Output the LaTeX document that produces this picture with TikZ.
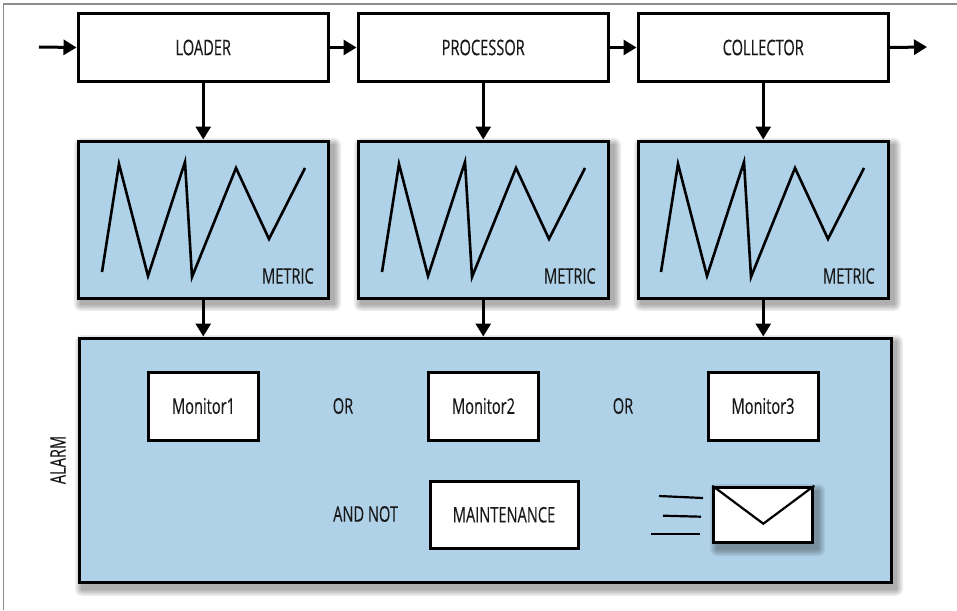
\documentclass[tikz,border=0pt]{standalone}
\usepackage{fontspec}
\setmainfont[FakeStretch=0.68,FakeBold=0.25]{Open Sans}
\usetikzlibrary{arrows.meta,calc}
\definecolor{panel}{HTML}{B0D2E9}
\tikzset{
  x=1pt,y=-1pt,
  boxbase/.style={draw=black,line width=3pt,anchor=north west,inner sep=0pt,font=\fontsize{21.5}{24}\selectfont,text=black!90},
  stagebox/.style={boxbase,fill=white,minimum width=250.5pt,minimum height=67pt},
  metricbox/.style={boxbase,fill=panel,minimum width=250.5pt,minimum height=157pt},
  alarmbox/.style={boxbase,fill=panel,minimum width=812pt,minimum height=244.5pt},
  monitorbox/.style={boxbase,fill=white,minimum width=110pt,minimum height=68pt},
  maintbox/.style={boxbase,fill=white,minimum width=148pt,minimum height=67.5pt},
  mailbox/.style={boxbase,fill=white,minimum width=99pt,minimum height=55pt},
  flow/.style={draw=black,line width=3pt,-{Triangle[length=13pt,width=15pt]}},
  trace/.style={draw=black,line width=2.6pt,line join=miter},
  speed/.style={draw=black,line width=2.2pt},
  caption/.style={font=\fontsize{21.5}{24}\selectfont,text=black!90,inner sep=0pt},
  shadowlayer/.style={fill=black,fill opacity=0.07,draw=none}
}
\newcommand{\softshadow}[4]{% x y w h
  \foreach \s in {7,5.5,4,2.5,1}{
    \fill[shadowlayer,rounded corners=\s pt] (#1+4-\s,#2+5-\s) rectangle (#1+#3+4+\s,#2+#4+5+\s);
  }
}
\newcommand{\zigzag}[1]{%
  \draw[trace] (#1+25,272) -- (#1+42,164) -- (#1+71,276) -- (#1+108,162) -- (#1+115,277) -- (#1+159,168) -- (#1+192,239) -- (#1+228,168);
}
\begin{document}
\begin{tikzpicture}
\useasboundingbox (0,0) rectangle (957,610);
\fill[white] (0,0) rectangle (957,610);
\draw[draw=black!45,line width=1.1pt] (3.3,610) -- (3.3,4);
\draw[draw=black!45,line width=1.7pt] (2.7,4) -- (957,4);

\softshadow{77}{140}{253}{159}
\softshadow{357}{140}{253}{159}
\softshadow{637}{140}{253}{159}
\softshadow{78}{337}{814}{247}

\node[alarmbox] (alarm) at (77.5,336.5) {};
\node[stagebox] (loader) at (76.5,12.5) {LOADER};
\node[stagebox] (processor) at (356.5,12.5) {PROCESSOR};
\node[stagebox] (collector) at (636.5,12.5) {COLLECTOR};
\node[metricbox] (metric1) at (76.5,139.5) {};
\node[metricbox] (metric2) at (356.5,139.5) {};
\node[metricbox] (metric3) at (636.5,139.5) {};

\zigzag{77}\zigzag{357}\zigzag{636}

\node[caption,anchor=east] (m1label) at (314,276) {METRIC};
\node[caption,anchor=east] (m2label) at (596,276) {METRIC};
\node[caption,anchor=east] (m3label) at (875,276) {METRIC};

\node[monitorbox] (mon1) at (147,370.5) {Monitor1};
\node[monitorbox] (mon2) at (427,370.5) {Monitor2};
\node[monitorbox] (mon3) at (706.5,370.5) {Monitor3};
\node[caption] (or1) at (343,406) {OR};
\node[caption] (or2) at (623,406) {OR};
\node[caption,anchor=west] (andnot) at (333,514) {AND NOT};
\node[maintbox] (maint) at (428.5,479.5) {MAINTENANCE};
\node[caption,rotate=90] (alarmlabel) at (58,460) {ALARM};

\softshadow{713}{486}{101}{58}
\node[mailbox] (mail) at (712.3,485.7) {};
\coordinate (fold) at ($(mail.north)+(0,38)$);
\draw[trace,line width=2.2pt] (mail.north west) -- (fold) -- (mail.north east);
\draw[speed] (659,496) -- (703,498);
\draw[speed] (663,515.7) -- (701,516.7);
\draw[speed] (651,534) -- (700,534);

\coordinate (inflow) at (39,47);
\coordinate (outflow) at (927,47);
\draw[flow] (inflow) -- (loader.west);
\draw[flow] (loader.east) -- (processor.west);
\draw[flow] (processor.east) -- (collector.west);
\draw[flow] (collector.east) -- (outflow);
\draw[flow] (loader.south) -- (metric1.north);
\draw[flow] (processor.south) -- (metric2.north);
\draw[flow] (collector.south) -- (metric3.north);
\draw[flow] (metric1.south) -- (metric1.south |- alarm.north);
\draw[flow] (metric2.south) -- (metric2.south |- alarm.north);
\draw[flow] (metric3.south) -- (metric3.south |- alarm.north);
\end{tikzpicture}
\end{document}
